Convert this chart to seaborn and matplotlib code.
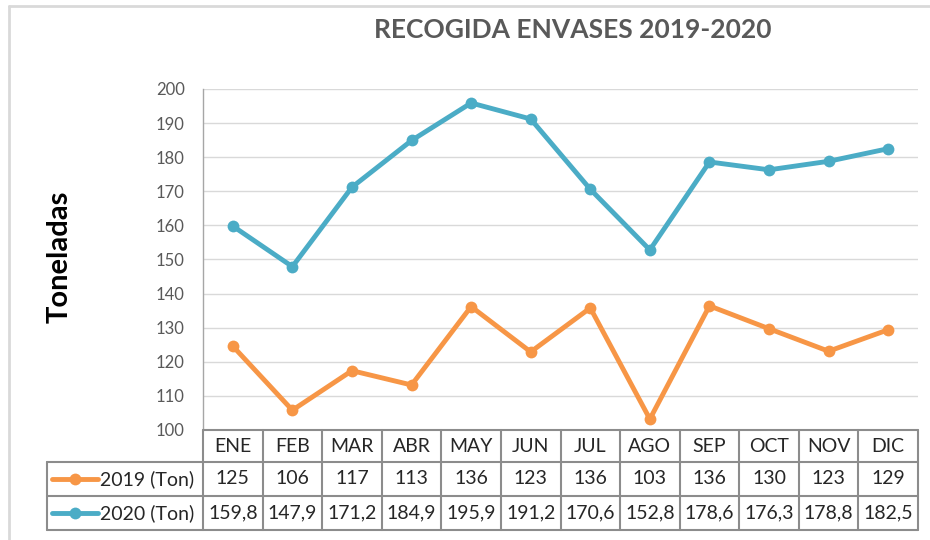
import pandas as pd
import matplotlib.pyplot as plt
import matplotlib.transforms as mtransforms
from matplotlib.lines import Line2D
import seaborn as sns

# data
meses = ["ENE", "FEB", "MAR", "ABR", "MAY", "JUN", "JUL", "AGO", "SEP", "OCT", "NOV", "DIC"]
ton_2019 = [124.6, 105.8, 117.4, 113.2, 136.2, 122.9, 135.8, 103.2, 136.4, 129.7, 123.1, 129.4]
ton_2020 = [159.8, 147.9, 171.2, 184.9, 195.9, 191.2, 170.6, 152.8, 178.6, 176.3, 178.8, 182.5]
series = ["2019 (Ton)", "2020 (Ton)"]
colores = ["#F79646", "#4BACC6"]

df = pd.DataFrame({
    "mes": meses * 2,
    "ton": ton_2019 + ton_2020,
    "serie": [series[0]] * 12 + [series[1]] * 12,
})

sns.set_theme(style="white")
plt.rcParams["font.family"] = ["Lato", "DejaVu Sans"]

W, H = 930, 540
fig = plt.figure(figsize=(W / 100, H / 100), dpi=100)
ax = fig.add_axes([203 / W, 1 - 430 / H, 715 / W, 341 / H])

sns.lineplot(data=df, x="mes", y="ton", hue="serie", palette=colores,
             marker="o", markersize=8.5, markeredgewidth=0, linewidth=3.5,
             sort=False, legend=False, ax=ax)

ax.set_xlim(-0.5, 11.5)
ax.set_ylim(100, 200)
ax.set_yticks(range(100, 201, 10))
ax.yaxis.grid(True, color="#D9D9D9", linewidth=1)
ax.set_axisbelow(True)
ax.tick_params(axis="x", labelbottom=False, length=0)
ax.tick_params(axis="y", length=0, pad=13, labelsize=12, labelcolor="#595959")
ax.set_xlabel("")
ax.set_ylabel("")
for s in ["top", "right", "bottom"]:
    ax.spines[s].set_visible(False)
ax.spines["left"].set_color("#A6A6A6")
ax.spines["left"].set_linewidth(1)

# title and y label
fig.text(573 / W, 1 - 30 / H, "RECOGIDA ENVASES 2019-2020", ha="center", va="center",
         fontsize=19, fontweight="bold", color="#595959")
fig.text(60 / W, 1 - 257 / H, "Toneladas", ha="center", va="center", rotation=90,
         fontsize=21, fontweight="bold", color="black")

# outer chart border (top and left are visible)
fig.add_artist(Line2D([9 / W, 1], [1 - 6 / H, 1 - 6 / H], transform=fig.transFigure,
                      color="#D9D9D9", linewidth=2))
fig.add_artist(Line2D([9 / W, 9 / W], [0, 1 - 6 / H], transform=fig.transFigure,
                      color="#D9D9D9", linewidth=2))

# data table under the axis
tr = mtransforms.blended_transform_factory(ax.transData, fig.transFigure)
def fy(y):
    return 1 - y / H

borde = "#8C8C8C"
x0 = -0.5 - (203 - 47) / 715 * 12  # legend column left edge in data units
rows_y = [430, 462, 496, 530]

def hline(xa, xb, y):
    fig.add_artist(Line2D([xa, xb], [fy(y), fy(y)], transform=tr, color=borde, linewidth=1.5))

def vline(x, ya, yb):
    fig.add_artist(Line2D([x, x], [fy(ya), fy(yb)], transform=tr, color=borde, linewidth=1.5))

hline(-0.5, 11.5, 430)
for y in rows_y[1:]:
    hline(x0, 11.5, y)
for i in range(13):
    vline(i - 0.5, 430, 530)
vline(x0, 462, 530)

for i, m in enumerate(meses):
    fig.text(i, fy(446), m, transform=tr, ha="center", va="center", fontsize=14, color="#262626")
    fig.text(i, fy(479), f"{ton_2019[i]:.0f}", transform=tr, ha="center", va="center",
             fontsize=14, color="#262626")
    fig.text(i, fy(513), f"{ton_2020[i]:.1f}".replace(".", ","), transform=tr, ha="center",
             va="center", fontsize=14, color="#262626")

# legend keys in the table
for serie, color, yc in zip(series, colores, [479, 513]):
    fig.add_artist(Line2D([52 / W, 98 / W], [fy(yc), fy(yc)], transform=fig.transFigure,
                          color=color, linewidth=3.5))
    fig.add_artist(Line2D([75 / W], [fy(yc)], transform=fig.transFigure, color=color,
                          marker="o", markersize=8.5, markeredgewidth=0))
    fig.text(100 / W, fy(yc), serie, ha="left", va="center", fontsize=14, color="#262626")

fig.savefig("out.png", dpi=100)
